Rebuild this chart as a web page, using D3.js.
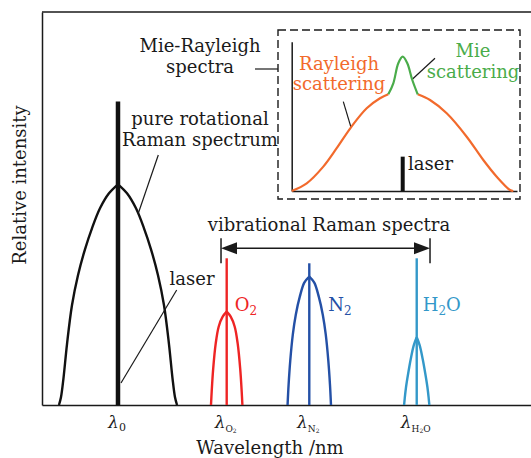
<!DOCTYPE html>
<html>
<head>
<meta charset="utf-8">
<script src="https://cdn.jsdelivr.net/npm/d3@7/dist/d3.min.js"></script>
<style>
  body { margin: 0; background: #fff; }
  text { font-family: "DejaVu Serif", serif; fill: #1a1a1a; }
</style>
</head>
<body>
<svg id="chart" width="531" height="458"></svg>
<script>
// pure rotational Raman band (wavelength in arbitrary units, relative intensity)
const rotWl = [3.47, 3.88, 4.39, 5.11, 6.13, 7.36, 8.79, 10.22, 11.86, 13.70, 15.54,
  17.38, 19.22, 20.86, 22.29, 23.72, 24.95, 25.97, 26.69, 27.20, 27.61]
const rotI = [0, 1.96, 6.79, 15.45, 25.37, 33.0, 39.62, 44.96, 50.05, 53.87, 56.16,
  53.87, 50.05, 44.96, 39.62, 33.0, 25.37, 15.45, 6.79, 1.96, 0]
const laserWl = 15.54
const laserI = 77.2

// vibrational Raman bands
const o2Wl = [34.56, 34.70, 35.01, 35.52, 36.13, 36.95, 37.77, 38.59, 39.41, 40.02, 40.53, 40.84, 40.98]
const o2I = [0, 3.38, 9.24, 15.6, 19.92, 22.47, 23.74, 22.47, 19.92, 15.6, 9.24, 3.38, 0]
const n2Wl = [50.22, 50.43, 50.77, 51.29, 51.90, 52.72, 53.64, 54.66, 55.68, 56.60, 57.42, 58.03, 58.55, 58.89, 59.10]
const n2I = [0, 5.17, 11.28, 17.89, 22.98, 27.56, 31.12, 32.65, 31.12, 27.56, 22.98, 17.89, 11.28, 5.17, 0]
const h2oWl = [74.05, 74.18, 74.44, 74.89, 75.40, 76.02, 76.63, 77.24, 77.86, 78.37, 78.82, 79.08, 79.21]
const h2oI = [0, 1.71, 4.51, 8.07, 11.63, 15.19, 17.23, 15.19, 11.63, 8.07, 4.51, 1.71, 0]
const lineCenters = [37.77, 54.66, 76.63]
const lineTops = [37.33, 36.06, 37.33]

// inset: Mie-Rayleigh spectra
const rayLeftX = [0, 6.66, 14.03, 19.97, 26.32, 33.29, 39.19, 42.88]
const rayLeftY = [0, 5.16, 16.34, 28.67, 42.67, 55.39, 62.09, 64.77]
const mieX = [42.88, 45.10, 47.31, 49.27, 51.31, 53.53, 55.93]
const mieY = [64.77, 72.14, 85.53, 89.95, 85.53, 74.35, 64.77]
const rayRightX = [55.93, 61.39, 68.80, 77.67, 85.04, 90.99, 96.89, 98.36]
const rayRightY = [64.77, 60.95, 52.04, 36.37, 20.76, 9.58, 0.67, 0]
const insetLaserX = 49.27
const insetLaserY = 23

const svg = d3.select('#chart')
const ink = '#1a1a1a'

var x = d3.scaleLinear().domain([0, 100]).range([42, 531])
var y = d3.scaleLinear().domain([0, 100]).range([405, 12])

// frame
svg.append('g').attr('transform', 'translate(0,405)')
  .call(d3.axisBottom(x).tickValues([]).tickSizeOuter(0))
svg.append('g').attr('transform', 'translate(42,0)')
  .call(d3.axisLeft(y).tickValues([]).tickSizeOuter(0))
svg.append('line').attr('x1', 42).attr('x2', 531).attr('y1', 12).attr('y2', 12)
svg.selectAll('.domain, line').attr('stroke', ink).attr('stroke-width', 1.5)

// draws a band as two halves so the apex stays pointed
function drawBand(g, sx, sy, xs, ys, color, width) {
  const pts = xs.map((v, i) => [v, ys[i]])
  const top = ys.indexOf(d3.max(ys))
  const line = d3.line().x(d => sx(d[0])).y(d => sy(d[1])).curve(d3.curveCatmullRom.alpha(0.5))
  g.append('path').attr('d', line(pts.slice(0, top + 1)))
    .attr('fill', 'none').attr('stroke', color).attr('stroke-width', width)
  g.append('path').attr('d', line(pts.slice(top)))
    .attr('fill', 'none').attr('stroke', color).attr('stroke-width', width)
}

const bands = svg.append('g')
drawBand(bands, x, y, rotWl, rotI, '#111', 2.4)
bands.append('line')
  .attr('x1', x(laserWl)).attr('x2', x(laserWl))
  .attr('y1', y(0)).attr('y2', y(laserI))
  .attr('stroke', '#111').attr('stroke-width', 4.5)

const vib = [
  { wl: o2Wl, inten: o2I, color: '#ee2424' },
  { wl: n2Wl, inten: n2I, color: '#2450a6' },
  { wl: h2oWl, inten: h2oI, color: '#3398c9' }
]
vib.forEach((b, i) => {
  drawBand(bands, x, y, b.wl, b.inten, b.color, 2.4)
  bands.append('line')
    .attr('x1', x(lineCenters[i])).attr('x2', x(lineCenters[i]))
    .attr('y1', y(0)).attr('y2', y(lineTops[i]))
    .attr('stroke', b.color).attr('stroke-width', 2.4)
})

// species labels
const species = [
  { parts: ['O', '2'], dx: 8, color: '#ee2424' },
  { parts: ['N', '2'], dx: 19, color: '#2450a6' },
  { parts: ['H', '2', 'O'], dx: 6, color: '#3398c9' }
]
species.forEach((s, i) => {
  const t = svg.append('text').attr('x', x(lineCenters[i]) + s.dx).attr('y', 311)
    .style('fill', s.color).attr('font-size', 18)
  t.append('tspan').text(s.parts[0])
  t.append('tspan').text(s.parts[1]).attr('font-size', 12).attr('dy', 4)
  if (s.parts[2]) t.append('tspan').text(s.parts[2]).attr('dy', -4)
})

// wavelength tick labels
const tickSubs = [['0'], ['O', '2'], ['N', '2'], ['H', '2', 'O']]
const tickPos = [laserWl].concat(lineCenters)
tickPos.forEach((p, i) => {
  const t = svg.append('text').attr('x', x(p) - 1).attr('y', 428)
    .attr('text-anchor', 'middle').attr('font-size', 17)
  t.append('tspan').text('λ').attr('font-style', 'italic')
  const s = tickSubs[i]
  if (s.length === 1) {
    t.append('tspan').text(s[0]).attr('font-size', 11).attr('dy', 3)
  } else {
    t.append('tspan').text(s[0]).attr('font-size', 9).attr('dy', 4)
    t.append('tspan').text(s[1]).attr('font-size', 6).attr('dy', 1)
    if (s[2]) t.append('tspan').text(s[2]).attr('font-size', 9).attr('dy', -1)
  }
})

// axis titles
svg.append('text').attr('x', 270).attr('y', 454).attr('text-anchor', 'middle')
  .attr('font-size', 18).text('Wavelength /nm')
svg.append('text').attr('transform', 'translate(26,185) rotate(-90)')
  .attr('text-anchor', 'middle').attr('font-size', 18).text('Relative intensity')

// vibrational arrow
const ax1 = x(36.61), ax2 = x(79.35), ay = y(39.87)
const ann = svg.append('g').attr('stroke', ink)
ann.append('line').attr('x1', ax1 + 10).attr('x2', ax2 - 10).attr('y1', ay).attr('y2', ay).attr('stroke-width', 1.5)
;[ax1, ax2].forEach(v => {
  ann.append('line').attr('x1', v).attr('x2', v).attr('y1', ay - 10).attr('y2', ay + 15).attr('stroke-width', 1.5)
})
ann.append('path').attr('d', `M${ax1},${ay} L${ax1 + 16},${ay - 6} L${ax1 + 16},${ay + 6}Z`).attr('fill', ink).attr('stroke', 'none')
ann.append('path').attr('d', `M${ax2},${ay} L${ax2 - 16},${ay - 6} L${ax2 - 16},${ay + 6}Z`).attr('fill', ink).attr('stroke', 'none')
svg.append('text').attr('x', 329).attr('y', 231).attr('text-anchor', 'middle')
  .attr('font-size', 18).text('vibrational Raman spectra')

// leader lines
const leaders = [
  [255, 69, 278, 69],
  [158.3, 155, 138.3, 213.3],
  [176.7, 290, 121, 383],
  [343.3, 101.7, 351, 127.3],
  [435, 58.3, 412.3, 79.3]
]
svg.append('g').selectAll('line').data(leaders).join('line')
  .attr('x1', d => d[0]).attr('y1', d => d[1]).attr('x2', d => d[2]).attr('y2', d => d[3])
  .attr('stroke', ink).attr('stroke-width', 1.2)

function label(lines, cx, ys, color, anchor) {
  lines.forEach((l, i) => {
    svg.append('text').attr('x', cx).attr('y', ys[i]).attr('text-anchor', anchor || 'middle')
      .attr('font-size', 18).style('fill', color || ink).text(l)
  })
}
label(['Mie-Rayleigh', 'spectra'], 200, [51.7, 73])
label(['pure rotational', 'Raman spectrum'], 200, [125, 145.5])
label(['laser'], 192, [285])

// inset
svg.append('rect').attr('x', 278).attr('y', 30).attr('width', 242).attr('height', 169)
  .attr('fill', 'none').attr('stroke', ink).attr('stroke-width', 1.4).attr('stroke-dasharray', '8,4')

var xi = d3.scaleLinear().domain([0, 100]).range([291.7, 517])
var yi = d3.scaleLinear().domain([0, 100]).range([191, 41.7])
const inset = svg.append('g')
inset.append('g').attr('transform', 'translate(0,191)')
  .call(d3.axisBottom(xi).tickValues([]).tickSizeOuter(0))
inset.append('g').attr('transform', 'translate(291.7,0)')
  .call(d3.axisLeft(yi).tickValues([]).tickSizeOuter(0))
inset.selectAll('.domain').attr('stroke', ink).attr('stroke-width', 1.5)

const smooth = d3.line().x(d => xi(d[0])).y(d => yi(d[1])).curve(d3.curveCatmullRom)
const orange = '#f26a2c', green = '#4aac4a'
inset.append('path').attr('d', smooth(rayLeftX.map((v, i) => [v, rayLeftY[i]])))
  .attr('fill', 'none').attr('stroke', orange).attr('stroke-width', 2.2)
inset.append('path').attr('d', smooth(rayRightX.map((v, i) => [v, rayRightY[i]])))
  .attr('fill', 'none').attr('stroke', orange).attr('stroke-width', 2.2)
inset.append('path').attr('d', smooth(mieX.map((v, i) => [v, mieY[i]])))
  .attr('fill', 'none').attr('stroke', green).attr('stroke-width', 2.2)
inset.append('line').attr('x1', xi(insetLaserX)).attr('x2', xi(insetLaserX))
  .attr('y1', yi(0)).attr('y2', yi(insetLaserY)).attr('stroke', '#111').attr('stroke-width', 4)

label(['Rayleigh', 'scattering'], 339, [70, 90], orange)
label(['Mie', 'scattering'], 473, [57, 78], green)
label(['laser'], 408, [170], ink, 'start')
</script>
</body>
</html>
